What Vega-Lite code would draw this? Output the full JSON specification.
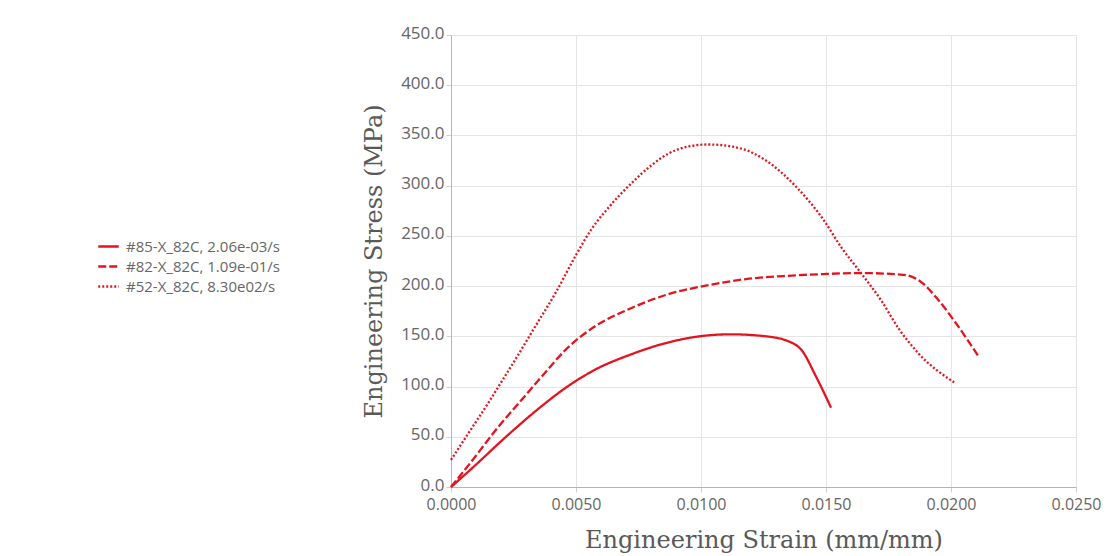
{
  "$schema": "https://vega.github.io/schema/vega-lite/v6.json",
  "width": 625,
  "height": 452,
  "autosize": {"type": "none"},
  "padding": {"left": 451, "top": 35, "right": 32, "bottom": 69},
  "background": "#ffffff",
  "config": {
    "view": {"stroke": null},
    "axis": {
      "gridColor": "#e4e4e4",
      "gridWidth": 1,
      "domainColor": "#b5b5b5",
      "tickColor": "#d0d0d0",
      "tickSize": 5,
      "labelColor": "#666666",
      "labelFont": "Open Sans",
      "labelFontSize": 16,
      "titleColor": "#595959",
      "titleFont": "DejaVu Serif",
      "titleFontSize": 24,
      "titleFontWeight": "normal"
    }
  },
  "data": {
    "values": [
      {"specimen": "#85-X_82C, 2.06e-03/s", "strain": 0.0, "stress": 0},
      {"specimen": "#85-X_82C, 2.06e-03/s", "strain": 0.0009, "stress": 20},
      {"specimen": "#85-X_82C, 2.06e-03/s", "strain": 0.0022, "stress": 50},
      {"specimen": "#85-X_82C, 2.06e-03/s", "strain": 0.0036, "stress": 80},
      {"specimen": "#85-X_82C, 2.06e-03/s", "strain": 0.0046, "stress": 99},
      {"specimen": "#85-X_82C, 2.06e-03/s", "strain": 0.0057, "stress": 116},
      {"specimen": "#85-X_82C, 2.06e-03/s", "strain": 0.0072, "stress": 132},
      {"specimen": "#85-X_82C, 2.06e-03/s", "strain": 0.0087, "stress": 144},
      {"specimen": "#85-X_82C, 2.06e-03/s", "strain": 0.0103, "stress": 151},
      {"specimen": "#85-X_82C, 2.06e-03/s", "strain": 0.0112, "stress": 152},
      {"specimen": "#85-X_82C, 2.06e-03/s", "strain": 0.0126, "stress": 150},
      {"specimen": "#85-X_82C, 2.06e-03/s", "strain": 0.0136, "stress": 144},
      {"specimen": "#85-X_82C, 2.06e-03/s", "strain": 0.0140, "stress": 137},
      {"specimen": "#85-X_82C, 2.06e-03/s", "strain": 0.0146, "stress": 110},
      {"specimen": "#85-X_82C, 2.06e-03/s", "strain": 0.0152, "stress": 79},

      {"specimen": "#82-X_82C, 1.09e-01/s", "strain": 0.0, "stress": 0},
      {"specimen": "#82-X_82C, 1.09e-01/s", "strain": 0.0009, "stress": 28},
      {"specimen": "#82-X_82C, 1.09e-01/s", "strain": 0.0018, "stress": 57},
      {"specimen": "#82-X_82C, 1.09e-01/s", "strain": 0.0028, "stress": 86},
      {"specimen": "#82-X_82C, 1.09e-01/s", "strain": 0.0037, "stress": 112},
      {"specimen": "#82-X_82C, 1.09e-01/s", "strain": 0.0046, "stress": 137},
      {"specimen": "#82-X_82C, 1.09e-01/s", "strain": 0.0057, "stress": 159},
      {"specimen": "#82-X_82C, 1.09e-01/s", "strain": 0.0072, "stress": 178},
      {"specimen": "#82-X_82C, 1.09e-01/s", "strain": 0.0087, "stress": 192},
      {"specimen": "#82-X_82C, 1.09e-01/s", "strain": 0.0103, "stress": 201},
      {"specimen": "#82-X_82C, 1.09e-01/s", "strain": 0.0118, "stress": 207},
      {"specimen": "#82-X_82C, 1.09e-01/s", "strain": 0.0133, "stress": 210},
      {"specimen": "#82-X_82C, 1.09e-01/s", "strain": 0.0149, "stress": 212},
      {"specimen": "#82-X_82C, 1.09e-01/s", "strain": 0.0164, "stress": 213},
      {"specimen": "#82-X_82C, 1.09e-01/s", "strain": 0.0182, "stress": 211},
      {"specimen": "#82-X_82C, 1.09e-01/s", "strain": 0.0187, "stress": 206},
      {"specimen": "#82-X_82C, 1.09e-01/s", "strain": 0.0195, "stress": 186},
      {"specimen": "#82-X_82C, 1.09e-01/s", "strain": 0.0202, "stress": 163},
      {"specimen": "#82-X_82C, 1.09e-01/s", "strain": 0.0211, "stress": 130},

      {"specimen": "#52-X_82C, 8.30e02/s", "strain": 0.0, "stress": 27},
      {"specimen": "#52-X_82C, 8.30e02/s", "strain": 0.0005, "stress": 46},
      {"specimen": "#52-X_82C, 8.30e02/s", "strain": 0.0010, "stress": 65},
      {"specimen": "#52-X_82C, 8.30e02/s", "strain": 0.0015, "stress": 84},
      {"specimen": "#52-X_82C, 8.30e02/s", "strain": 0.0020, "stress": 104},
      {"specimen": "#52-X_82C, 8.30e02/s", "strain": 0.0026, "stress": 128},
      {"specimen": "#52-X_82C, 8.30e02/s", "strain": 0.0033, "stress": 157},
      {"specimen": "#52-X_82C, 8.30e02/s", "strain": 0.0042, "stress": 194},
      {"specimen": "#52-X_82C, 8.30e02/s", "strain": 0.0050, "stress": 231},
      {"specimen": "#52-X_82C, 8.30e02/s", "strain": 0.0056, "stress": 256},
      {"specimen": "#52-X_82C, 8.30e02/s", "strain": 0.0064, "stress": 281},
      {"specimen": "#52-X_82C, 8.30e02/s", "strain": 0.0072, "stress": 302},
      {"specimen": "#52-X_82C, 8.30e02/s", "strain": 0.0080, "stress": 320},
      {"specimen": "#52-X_82C, 8.30e02/s", "strain": 0.0087, "stress": 332},
      {"specimen": "#52-X_82C, 8.30e02/s", "strain": 0.0095, "stress": 339},
      {"specimen": "#52-X_82C, 8.30e02/s", "strain": 0.0103, "stress": 341},
      {"specimen": "#52-X_82C, 8.30e02/s", "strain": 0.0116, "stress": 337},
      {"specimen": "#52-X_82C, 8.30e02/s", "strain": 0.0126, "stress": 325},
      {"specimen": "#52-X_82C, 8.30e02/s", "strain": 0.0138, "stress": 299},
      {"specimen": "#52-X_82C, 8.30e02/s", "strain": 0.0149, "stress": 266},
      {"specimen": "#52-X_82C, 8.30e02/s", "strain": 0.0156, "stress": 239},
      {"specimen": "#52-X_82C, 8.30e02/s", "strain": 0.0164, "stress": 213},
      {"specimen": "#52-X_82C, 8.30e02/s", "strain": 0.0172, "stress": 186},
      {"specimen": "#52-X_82C, 8.30e02/s", "strain": 0.0179, "stress": 158},
      {"specimen": "#52-X_82C, 8.30e02/s", "strain": 0.0187, "stress": 133},
      {"specimen": "#52-X_82C, 8.30e02/s", "strain": 0.0202, "stress": 103}
    ]
  },
  "mark": {"type": "line", "color": "#e3141e", "strokeWidth": 2.3, "interpolate": "monotone"},
  "encoding": {
    "x": {
      "field": "strain",
      "type": "quantitative",
      "scale": {"domain": [0, 0.025], "nice": false, "zero": false},
      "axis": {
        "values": [0, 0.005, 0.01, 0.015, 0.02, 0.025],
        "format": ".4f",
        "labelFlush": false,
        "labelPadding": 4,
        "titlePadding": 16,
        "title": "Engineering Strain (mm/mm)"
      }
    },
    "y": {
      "field": "stress",
      "type": "quantitative",
      "scale": {"domain": [0, 450], "nice": false},
      "axis": {
        "values": [0, 50, 100, 150, 200, 250, 300, 350, 400, 450],
        "format": ".1f",
        "labelFontSize": 17,
        "labelOffset": -2,
        "labelPadding": 2,
        "titlePadding": 14,
        "title": "Engineering Stress (MPa)"
      }
    },
    "strokeDash": {
      "field": "specimen",
      "type": "nominal",
      "scale": {
        "domain": ["#85-X_82C, 2.06e-03/s", "#82-X_82C, 1.09e-01/s", "#52-X_82C, 8.30e02/s"],
        "range": [[1, 0], [8, 3], [2, 2]]
      },
      "legend": {
        "title": null,
        "orient": "none",
        "legendX": -354,
        "legendY": 200,
        "symbolType": "stroke",
        "symbolSize": 420,
        "symbolStrokeWidth": 2.5,
        "symbolStrokeColor": "#e3141e",
        "labelFont": "Open Sans",
        "labelFontSize": 15,
        "labelColor": "#666666",
        "rowPadding": 0,
        "labelOffset": 6
      }
    }
  }
}
